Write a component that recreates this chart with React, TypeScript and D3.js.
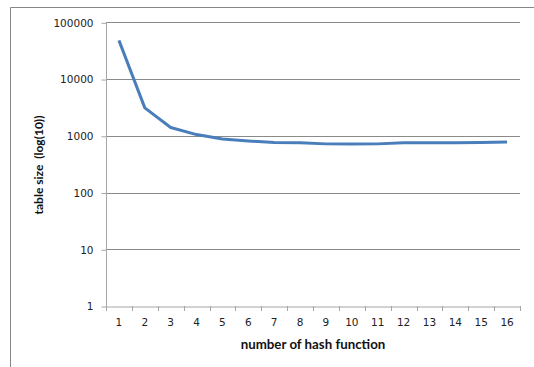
import React, { useRef, useEffect } from 'react';
import * as d3 from 'd3';

// number of hash functions
const hashCounts = [1, 2, 3, 4, 5, 6, 7, 8, 9, 10, 11, 12, 13, 14, 15, 16];
// table size for each count
const tableSizes = [48000, 3100, 1400, 1050, 880, 810, 760, 750, 720, 715, 720, 750, 755, 755, 760, 780];
const yTicks = [1, 10, 100, 1000, 10000, 100000];

const W = 534;
const H = 367;

const App = () => {
    const svgRef = useRef(null);

    useEffect(() => {
        const svg = d3.select(svgRef.current);
        svg.selectAll('*').remove();

        const left = 106, right = 520, top = 22.3, bottom = 306;

        // outer frame
        svg.append('path')
            .attr('d', `M10.5,${H} L10.5,7.5 L${W},7.5`)
            .attr('fill', 'none')
            .attr('stroke', '#878787')
            .attr('stroke-width', 1);

        const x = d3.scaleBand<number>()
            .domain(hashCounts)
            .range([left, right]);

        const y = d3.scaleLog()
            .domain([1, 100000])
            .range([bottom, top]);

        // grid lines
        svg.append('g')
            .selectAll('line')
            .data(yTicks.slice(1))
            .enter()
            .append('line')
            .attr('x1', left)
            .attr('x2', right)
            .attr('y1', d => Math.round(y(d)) + 0.5)
            .attr('y2', d => Math.round(y(d)) + 0.5)
            .attr('stroke', '#8a8a8a')
            .attr('stroke-width', 1);

        // y axis
        const yAxis = d3.axisLeft(y)
            .tickValues(yTicks)
            .tickFormat(d3.format('d'))
            .tickSize(5)
            .tickPadding(8);

        const gy = svg.append('g')
            .attr('transform', `translate(${left + 0.5},0.5)`)
            .call(yAxis);
        gy.select('.domain').attr('stroke', '#a6a6a6').attr('d', `M0,${Math.round(top)}V${bottom}`);
        gy.selectAll('.tick line').attr('stroke', '#a6a6a6');
        gy.selectAll('.tick text')
            .attr('fill', '#222')
            .style('font-family', '"DejaVu Sans", Verdana, sans-serif')
            .style('font-size', '10.5px');

        // x axis
        const xAxis = d3.axisBottom(x)
            .tickSize(0)
            .tickPadding(12);

        const gx = svg.append('g')
            .attr('transform', `translate(0,${bottom + 0.5})`)
            .call(xAxis);
        gx.select('.domain').attr('stroke', '#a6a6a6');
        gx.selectAll('.tick text')
            .attr('fill', '#222')
            .style('font-family', '"DejaVu Sans", Verdana, sans-serif')
            .style('font-size', '10.5px');

        // category separator ticks
        svg.append('g')
            .selectAll('line')
            .data(hashCounts.concat([17]))
            .enter()
            .append('line')
            .attr('x1', d => Math.round(d <= 16 ? x(d) : right) + 0.5)
            .attr('x2', d => Math.round(d <= 16 ? x(d) : right) + 0.5)
            .attr('y1', bottom)
            .attr('y2', bottom + 5)
            .attr('stroke', '#a6a6a6');

        // data line
        const line = d3.line<number>()
            .x((d, i) => x(hashCounts[i]) + x.bandwidth() / 2)
            .y(d => y(d));

        svg.append('path')
            .datum(tableSizes)
            .attr('fill', 'none')
            .attr('stroke', '#4a7ebb')
            .attr('stroke-width', 3)
            .attr('stroke-linejoin', 'round')
            .attr('d', line);

        // axis titles
        svg.append('text')
            .attr('x', (left + right) / 2)
            .attr('y', 349)
            .attr('text-anchor', 'middle')
            .style('font-family', 'Lato, "Open Sans", sans-serif')
            .style('font-weight', 'bold')
            .style('font-size', '13.3px')
            .attr('fill', '#111')
            .text('number of hash function');

        svg.append('text')
            .attr('transform', `translate(43,165) rotate(-90)`)
            .attr('text-anchor', 'middle')
            .style('font-family', 'Lato, "Open Sans", sans-serif')
            .style('font-weight', 'bold')
            .style('font-size', '12px')
            .attr('fill', '#111')
            .attr('xml:space', 'preserve')
            .text('table size  (log(10))');
    }, []);

    return (
        <svg
            ref={svgRef}
            width={W}
            height={H}
            style={{ position: 'absolute', left: 0, top: 0, background: '#fff' }}
        />
    );
};

export default App;
